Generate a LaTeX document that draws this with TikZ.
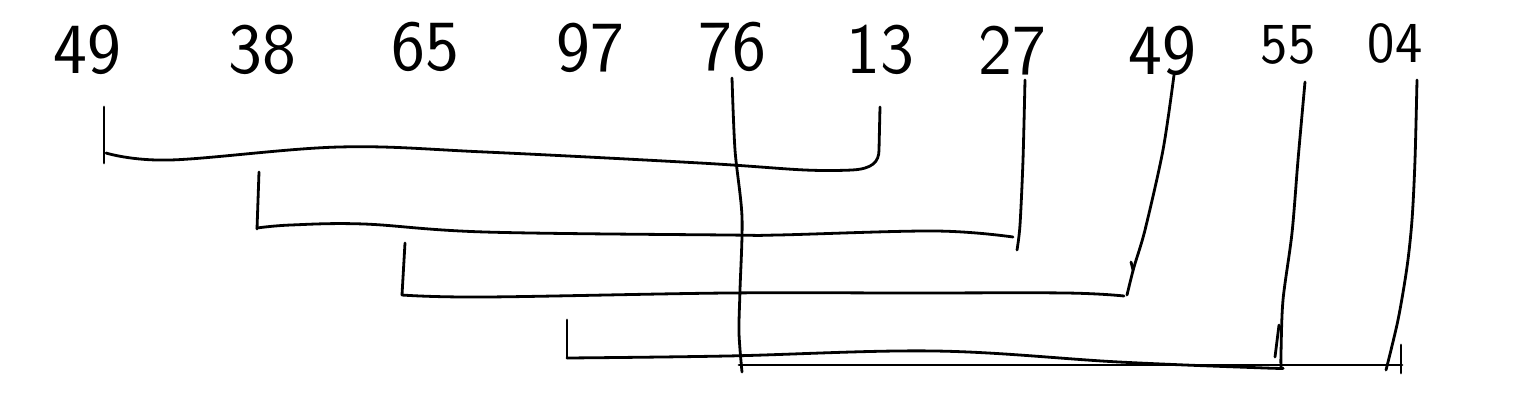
\documentclass[tikz,border=0pt]{standalone}
\begin{document}
\begin{tikzpicture}[x=1pt,y=-1pt,
  pen/.style={line width=2.8pt, line cap=round, line join=round, black},
  num/.style={font=\sffamily\fontsize{72}{72}\selectfont, inner sep=0pt, anchor=base},
  smallnum/.style={font=\sffamily\fontsize{58}{58}\selectfont, inner sep=0pt, anchor=base}]
\useasboundingbox (0,0) rectangle (1516,410);
% numbers
\node[num] (n1) at (87,73) {49};
\node[num] (n2) at (262,73) {38};
\node[num] (n3) at (425,70) {65};
\node[num] (n4) at (590,71) {97};
\node[num] (n5) at (732,70) {76};
\node[num] (n6) at (880,73) {13};
\node[num] (n7) at (1012,74) {27};
\node[num] (n8) at (1162,74) {49};
\node[smallnum] (n9) at (1288,63) {55};
\node[smallnum] (n10) at (1395,62) {04};
% group 1 : 49 -- 13
\coordinate (g1a) at (104,107);
\coordinate (g1b) at (880,107);
\draw[pen] (g1a) -- (104,163);
\draw[pen] plot[smooth, tension=0.6] coordinates {(106,153) (170,160) (339,147) (485,152) (700,163) (805,170) (852,170)}
  .. controls (872,169) and (879,162) .. (879,150) -- (g1b);
% group 2 : 38 -- 27
\coordinate (g2a) at (259,172);
\coordinate (g2b) at (1025,80);
\draw[pen] (g2a) -- (257,229);
\draw[pen] plot[smooth, tension=0.6] coordinates {(257,228) (291,225) (364,224) (485,232) (727,235) (778,235) (935,231) (1013,237)};
\draw[pen] plot[smooth, tension=0.5] coordinates {(g2b) (1023,160) (1020,225) (1017,250)};
% group 3 : 65 -- 49
\coordinate (g3a) at (405,243);
\coordinate (g3b) at (1174,75);
\draw[pen] (g3a) -- (402,295);
\draw[pen] plot[smooth, tension=0.6] coordinates {(402,295) (485,297) (727,293) (909,293) (1066,293) (1124,296)};
\draw[pen] plot[smooth, tension=0.5] coordinates {(g3b) (1163,150) (1145,230) (1134,267) (1127,295)};
\draw[pen] (1131,262) -- (1133,270);
% group 4 : 97 -- 55
\coordinate (g4a) at (567,320);
\coordinate (g4b) at (1305,82);
\draw[pen] (g4a) -- (567,358);
\draw[pen] plot[smooth, tension=0.6] coordinates {(567,358) (727,356) (935,351) (1119,362) (1265,368) (1281,368)};
\draw[pen] plot[smooth, tension=0.5] coordinates {(g4b) (1298,160) (1292,233) (1283,300) (1281,353) (1281,368)};
\draw[pen] (1279,325) -- (1275,357);
% group 5 : 76 -- 04
\coordinate (g5a) at (732,78);
\coordinate (g5b) at (1417,80);
\draw[pen] plot[smooth, tension=0.5] coordinates {(g5a) (735,150) (742,217) (740,290) (739,333) (742,372)};
\draw[pen] (739,365) -- (1402,365);
\draw[pen] plot[smooth, tension=0.5] coordinates {(g5b) (1415,160) (1412,220) (1407,267) (1398,320) (1386,370)};
\draw[pen] (1401,345) -- (1401,373);
\end{tikzpicture}
\end{document}
